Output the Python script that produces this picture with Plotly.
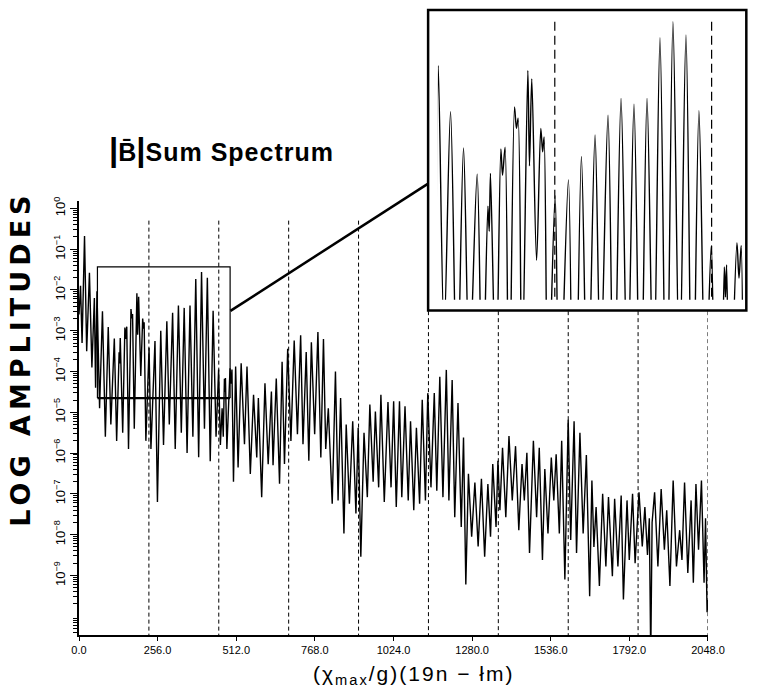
import plotly.graph_objects as go

# ---- data (alternating peaks / troughs) ----
freq = [0, 5, 10, 18, 25, 34, 42, 50, 54, 58.5,
        67.0, 76.4, 85.8, 95.2, 103.7, 115.0, 122.6, 130.6, 132.5, 134.3,
        142.3, 149.4, 151.8, 155.5, 161.2, 169.2, 172.0, 174.4, 180.0, 188.5,
        190.9, 194.2, 201.2, 207.3, 210.0, 212.1, 217.7, 228.1, 234.2, 247.4,
        255.4, 266.2, 275.2, 286.0, 294.0, 304.8, 313.3, 323.7, 333.1, 342.5,
        351.9, 361.4, 370.8, 380.2, 389.6, 399.0, 408.5, 417.9, 427.3, 436.7,
        446.2, 454.6, 460.3, 466.0, 469.7, 473.5, 475.2, 476.8, 481.5, 491.8,
        494.8, 498.0, 503.0, 510.0, 518.0, 528.0, 538.8, 547.0, 557.8, 568.3,
        578.8, 584.0, 594.8, 605.5, 616.0, 626.5, 631.8, 642.3, 653.0, 661.3,
        669.0, 679.5, 690.0, 700.7, 711.2, 721.7, 729.3, 739.8, 748.3, 756.6,
        767.3, 777.9, 787.4, 796.0, 803.3, 811.8, 824.5, 835.0, 843.6, 851.8,
        862.6, 870.0, 880.4, 891.2, 901.7, 909.0, 917.6, 928.0, 938.8, 947.0,
        957.8, 965.0, 975.7, 983.0, 994.0, 1006.0, 1016.0, 1024.5, 1033.0, 1043.5,
        1051.0, 1061.5, 1072.0, 1079.5, 1090.0, 1098.6, 1109.0, 1117.6, 1128.0, 1135.6,
        1146.0, 1156.8, 1165.0, 1174.8, 1185.0, 1196.0, 1204.4, 1215.0, 1223.4, 1234.0,
        1244.6, 1252.0, 1259.5, 1268.0, 1278.5, 1289.0, 1299.6, 1310.3, 1320.8, 1331.3,
        1339.9, 1347.2, 1357.9, 1364.0, 1370.5, 1379.0, 1389.7, 1400.0, 1410.7, 1421.4,
        1432.0, 1442.5, 1450.0, 1458.3, 1466.9, 1479.5, 1490.0, 1498.6, 1509.0, 1516.7,
        1527.0, 1537.8, 1546.0, 1553.6, 1564.0, 1571.6, 1582.0, 1592.8, 1601.0, 1612.0,
        1620.0, 1631.0, 1641.5, 1652.0, 1662.7, 1670.0, 1676.5, 1683.7, 1694.4, 1705.0,
        1715.5, 1724.0, 1736.7, 1744.0, 1754.7, 1765.3, 1772.6, 1784.4, 1791.7, 1802.4,
        1810.7, 1823.4, 1834.0, 1842.5, 1851.0, 1857.0, 1861.6, 1866.0, 1874.2, 1884.9,
        1895.5, 1906.0, 1913.6, 1924.0, 1934.6, 1945.3, 1955.8, 1963.2, 1971.7, 1982.3,
        1993.0, 2000.3, 2008.8, 2017.2, 2026.7, 2035.2, 2040.0, 2045.0, 2048.0]

log_amp = [-2.6, -1.9, -3.3, -0.68, -3.5, -1.58, -3.9, -2.2, -4.4, -2.03,
           -4.9, -2.52, -5.6, -2.91, -5.3, -3.19, -5.7, -3.53, -3.8, -3.18,
           -5.5, -2.92, -3.2, -2.90, -5.9, -2.47, -2.7, -2.59, -5.4, -2.08,
           -3.1, -2.17, -4.11, -2.70, -2.95, -2.79, -5.7, -3.42, -5.9, -3.25,
           -7.2, -3.00, -5.8, -2.77, -5.3, -2.56, -5.9, -2.38, -5.5, -2.44,
           -6.0, -2.38, -5.6, -1.73, -6.1, -1.56, -5.4, -1.70, -6.2, -2.51,
           -5.6, -3.95, -5.8, -4.9, -5.6, -4.18, -4.5, -4.16, -5.9, -3.92,
           -4.3, -3.95, -6.7, -3.88, -6.35, -3.80, -5.78, -3.88, -6.51, -4.57,
           -6.11, -4.65, -7.08, -4.29, -6.27, -4.49, -6.3, -4.17, -6.75, -3.76,
           -6.27, -3.44, -5.7, -3.24, -5.54, -3.11, -5.78, -3.52, -6.19, -3.28,
           -5.54, -3.03, -6.11, -3.20, -5.9, -4.90, -7.24, -4.00, -7.16, -4.65,
           -7.97, -5.30, -7.24, -5.22, -7.48, -5.38, -8.54, -5.5, -7.08, -4.81,
           -6.7, -4.98, -6.84, -4.57, -7.2, -4.75, -6.84, -4.73, -7.32, -4.73,
           -7.08, -4.85, -7.16, -5.22, -7.40, -5.38, -7.24, -4.69, -7.16, -4.53,
           -6.84, -4.53, -6.92, -4.13, -7.08, -3.96, -7.16, -4.21, -7.57, -4.77,
           -7.81, -5.62, -9.22, -6.51, -8.05, -6.72, -8.29, -6.63, -8.54, -6.76,
           -8.05, -6.27, -7.81, -6.19, -7.4, -5.87, -7.57, -5.58, -7.16, -5.83,
           -7.89, -6.27, -7.16, -5.99, -8.45, -5.70, -7.57, -5.87, -8.62, -6.39,
           -7.97, -6.11, -7.16, -6.03, -7.97, -5.70, -9.10, -5.18, -8.13, -5.22,
           -8.45, -5.50, -7.97, -6.05, -9.51, -6.67, -8.3, -7.32, -9.26, -7.0,
           -8.78, -7.08, -9.02, -7.12, -8.78, -7.04, -9.59, -7.16, -8.62, -7.0,
           -8.70, -6.96, -8.29, -7.32, -8.5, -7.6, -11.0, -7.7, -6.96, -8.78,
           -6.88, -8.37, -7.40, -9.26, -6.67, -8.78, -7.89, -8.62, -6.72, -8.94,
           -7.16, -9.18, -6.76, -8.37, -6.67, -9.18, -7.6, -9.9, -9.6]

amp = [10 ** v for v in log_amp]

# harmonic marker positions (dashed lines)
harmonics = [227.6, 455.1, 682.7, 910.2, 1137.8, 1365.3, 1592.9, 1820.4, 2048.0]

x_ticks = [0, 256, 512, 768, 1024, 1280, 1536, 1792, 2048]
x_tick_text = ["0.0", "256.0", "512.0", "768.0", "1024.0", "1280.0", "1536.0", "1792.0", "2048.0"]
y_ticks = [1, 1e-1, 1e-2, 1e-3, 1e-4, 1e-5, 1e-6, 1e-7, 1e-8, 1e-9]
y_tick_text = ["10<sup>0</sup>", "10<sup>\u22121</sup>", "10<sup>\u22122</sup>", "10<sup>\u22123</sup>",
               "10<sup>\u22124</sup>", "10<sup>\u22125</sup>", "10<sup>\u22126</sup>", "10<sup>\u22127</sup>",
               "10<sup>\u22128</sup>", "10<sup>\u22129</sup>"]

# zoom window (inset) in data units
zoom_x = [58, 505]
box_x = [60, 492]
box_logy = [-4.65, -1.435]

# ---- layout geometry (pixels) ----
W, H = 764, 691
L, B = 79, 56
PW, PH = W - L, H - B        # plot area spans x 79..764, y 0..635


def px(xp):
    return (xp - L) / PW


def py(yp):
    return (PH - yp) / PH


Y_RANGE = [-10.46, 0.17]
fig = go.Figure()

# dashed harmonic lines on main plot
for hx in harmonics:
    top = -0.3 if hx < 1130 else -2.52
    fig.add_trace(go.Scatter(x=[hx, hx], y=[10 ** top, 10 ** Y_RANGE[0]], mode="lines",
                             line=dict(color="black", width=1, dash="4px,3px"),
                             xaxis="x", yaxis="y", showlegend=False, hoverinfo="skip"))

# main spectrum
fig.add_trace(go.Scatter(x=freq, y=amp, mode="lines", line=dict(color="black", width=1.4),
                         xaxis="x", yaxis="y", showlegend=False, hoverinfo="skip"))

# small zoom box on main plot
fig.add_trace(go.Scatter(x=[box_x[0], box_x[0], box_x[1], box_x[1]],
                         y=[10 ** box_logy[0], 10 ** box_logy[1], 10 ** box_logy[1], 10 ** box_logy[0]],
                         mode="lines", line=dict(color="black", width=1.2),
                         xaxis="x", yaxis="y", showlegend=False, hoverinfo="skip"))
fig.add_trace(go.Scatter(x=[box_x[0], box_x[1]], y=[10 ** box_logy[0], 10 ** box_logy[0]],
                         mode="lines", line=dict(color="black", width=2.2),
                         xaxis="x", yaxis="y", showlegend=False, hoverinfo="skip"))

# inset: dashed lines + spectrum
INSET_Y = [-4.53, -1.54]
for hx in harmonics:
    if zoom_x[0] < hx < zoom_x[1]:
        fig.add_trace(go.Scatter(x=[hx, hx], y=[10 ** (INSET_Y[1] - 0.02), 10 ** INSET_Y[0]], mode="lines",
                                 line=dict(color="black", width=1.2, dash="9px,5px"),
                                 xaxis="x2", yaxis="y2", showlegend=False, hoverinfo="skip"))
fig.add_trace(go.Scatter(x=freq, y=amp, mode="lines", line=dict(color="black", width=1.4, shape="spline", smoothing=0.9),
                         xaxis="x2", yaxis="y2", showlegend=False, hoverinfo="skip"))

fig.update_layout(
    width=W, height=H,
    margin=dict(l=L, r=0, t=0, b=B),
    paper_bgcolor="white", plot_bgcolor="white",
    font=dict(family="Liberation Sans", color="black"),
    xaxis=dict(domain=[0, px(724)], range=[0, 2048], anchor="y",
               tickmode="array", tickvals=x_ticks, ticktext=x_tick_text,
               ticks="outside", ticklen=4, tickwidth=1, tickcolor="black",
               tickfont=dict(size=11), showline=True, linecolor="black", linewidth=1.5,
               showgrid=False, zeroline=False),
    yaxis=dict(domain=[0, py(198)], type="log", range=Y_RANGE, anchor="x",
               tickmode="array", tickvals=y_ticks, ticktext=y_tick_text, tickangle=-90,
               ticks="outside", ticklen=7, tickwidth=1.2, tickcolor="black",
               tickfont=dict(size=13),
               minor=dict(tickmode="array",
                          tickvals=[m * 10.0 ** e for e in range(-11, 0) for m in range(2, 10)],
                          ticks="outside", ticklen=4, tickcolor="black", tickwidth=1),
               showline=True, linecolor="black", linewidth=1.5,
               showgrid=False, zeroline=False),
    xaxis2=dict(domain=[px(447), px(763)], range=zoom_x, anchor="y2", visible=False),
    yaxis2=dict(domain=[py(297), py(15)], type="log", range=INSET_Y, anchor="x2", visible=False),
    shapes=[
        dict(type="rect", xref="paper", yref="paper", x0=px(437), x1=px(763.3), y0=py(308), y1=py(5),
             line=dict(color="black", width=2.5)),
        dict(type="line", xref="paper", yref="paper", x0=px(234.3), y0=py(308.3), x1=px(437), y1=py(180),
             line=dict(color="black", width=2.5)),
    ],
    annotations=[
        dict(xref="paper", yref="paper", x=px(108), y=py(146), xanchor="left", yanchor="middle",
             showarrow=False,
             text="<b><span style='font-size:33px'>|</span>B\u0304<span style='font-size:33px'>|</span>"
                  "<span style='letter-spacing:1px'>Sum Spectrum</span></b>",
             font=dict(size=25, family="Liberation Sans")),
        dict(xref="paper", yref="paper", x=px(19), y=py(356), xanchor="center", yanchor="middle",
             showarrow=False, textangle=-90,
             text="<b><span style='letter-spacing:5px'>LOG AMPLITUDES</span></b>",
             font=dict(size=27, family="DejaVu Sans")),
        dict(xref="paper", yref="paper", x=px(422), y=py(675), xanchor="center", yanchor="middle",
             showarrow=False,
             text="<span style='letter-spacing:2px'>(\u03c7<sub>max</sub>/g)(19n \u2212 \u0142m)</span>",
             font=dict(size=21, family="Liberation Sans")),
    ],
)

fig.write_html("out.html")
